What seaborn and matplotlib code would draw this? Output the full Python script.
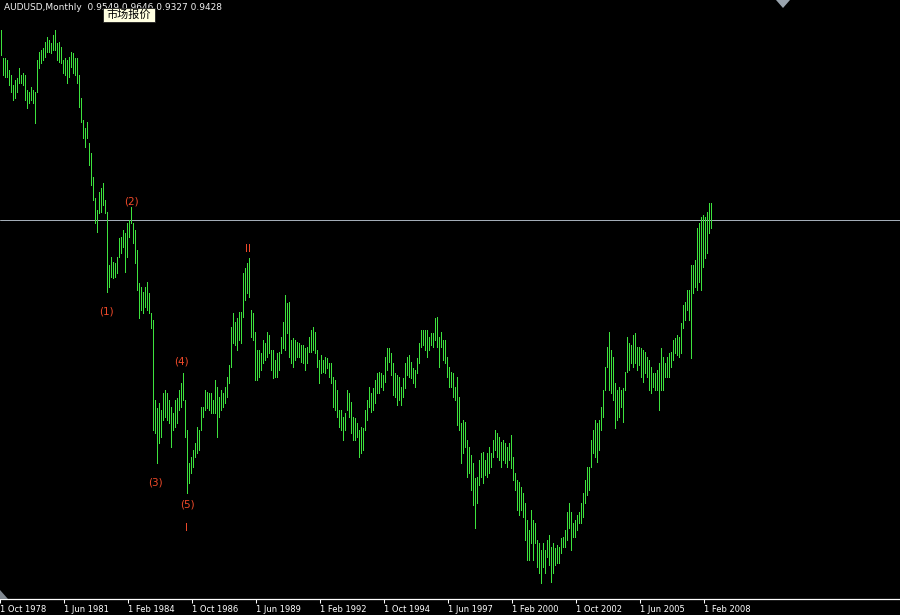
"""
AUDUSD monthly bar chart (MetaTrader style) with Elliott wave labels.
Writes out.png (900x615).
"""

import numpy as np
import pandas as pd
import matplotlib
matplotlib.use("Agg")
import matplotlib.pyplot as plt
import seaborn as sns
from matplotlib.patches import Polygon, Rectangle

# --------------------------------------------------------------------------- #
# Data
# --------------------------------------------------------------------------- #
SYMBOL = "AUDUSD,Monthly"
LAST_OHLC = ["0.9549", "0.9646", "0.9327", "0.9428"]
BID = 0.9428
START = "1978-10-01"
TICK_EVERY = 32

HIGH = [
    1.186, 1.151, 1.151, 1.148, 1.135, 1.129, 1.116, 1.122, 1.125, 1.138,
    1.129, 1.131, 1.129, 1.110, 1.107, 1.113, 1.110, 1.107, 1.148, 1.158,
    1.161, 1.163, 1.171, 1.177, 1.174, 1.170, 1.180, 1.186, 1.170, 1.171,
    1.165, 1.148, 1.151, 1.148, 1.152, 1.158, 1.157, 1.151, 1.151, 1.129,
    1.099, 1.071, 1.061, 1.069, 1.042, 1.029, 0.998, 0.971, 0.956, 0.979,
    0.984, 0.990, 0.969, 0.953, 0.885, 0.895, 0.889, 0.888, 0.895, 0.920,
    0.921, 0.930, 0.926, 0.939, 0.943, 0.960, 0.939, 0.930, 0.904, 0.862,
    0.857, 0.851, 0.857, 0.863, 0.849, 0.824, 0.815, 0.712, 0.702, 0.708,
    0.699, 0.721, 0.725, 0.721, 0.712, 0.703, 0.695, 0.712, 0.715, 0.725,
    0.734, 0.747, 0.712, 0.674, 0.631, 0.639, 0.648, 0.657, 0.677, 0.674,
    0.703, 0.703, 0.725, 0.722, 0.721, 0.721, 0.712, 0.738, 0.729, 0.716,
    0.725, 0.721, 0.729, 0.742, 0.757, 0.806, 0.824, 0.812, 0.817, 0.825,
    0.825, 0.875, 0.881, 0.888, 0.894, 0.828, 0.824, 0.799, 0.776, 0.776,
    0.772, 0.789, 0.785, 0.799, 0.795, 0.776, 0.776, 0.763, 0.772, 0.774,
    0.793, 0.812, 0.847, 0.837, 0.838, 0.789, 0.792, 0.789, 0.786, 0.785,
    0.783, 0.783, 0.779, 0.780, 0.793, 0.802, 0.806, 0.799, 0.776, 0.763,
    0.770, 0.763, 0.767, 0.766, 0.760, 0.760, 0.742, 0.738, 0.725, 0.699,
    0.699, 0.690, 0.695, 0.725, 0.721, 0.710, 0.690, 0.689, 0.683, 0.674,
    0.677, 0.676, 0.699, 0.712, 0.729, 0.721, 0.728, 0.738, 0.747, 0.748,
    0.747, 0.744, 0.767, 0.779, 0.779, 0.772, 0.760, 0.747, 0.744, 0.742,
    0.729, 0.740, 0.760, 0.767, 0.770, 0.761, 0.753, 0.751, 0.766, 0.785,
    0.802, 0.802, 0.802, 0.802, 0.793, 0.798, 0.798, 0.817, 0.819, 0.793,
    0.799, 0.789, 0.789, 0.767, 0.754, 0.748, 0.747, 0.729, 0.742, 0.716,
    0.683, 0.687, 0.684, 0.661, 0.652, 0.641, 0.631, 0.612, 0.613, 0.635,
    0.644, 0.645, 0.635, 0.644, 0.652, 0.644, 0.661, 0.674, 0.670, 0.665,
    0.658, 0.661, 0.657, 0.652, 0.657, 0.667, 0.639, 0.619, 0.610, 0.607,
    0.601, 0.593, 0.580, 0.558, 0.545, 0.571, 0.558, 0.554, 0.533, 0.529,
    0.520, 0.529, 0.520, 0.533, 0.539, 0.524, 0.529, 0.522, 0.526, 0.524,
    0.535, 0.537, 0.545, 0.569, 0.580, 0.569, 0.554, 0.558, 0.565, 0.569,
    0.580, 0.593, 0.610, 0.626, 0.626, 0.661, 0.674, 0.687, 0.683, 0.687,
    0.703, 0.725, 0.754, 0.780, 0.799, 0.776, 0.767, 0.734, 0.725, 0.729,
    0.725, 0.728, 0.748, 0.793, 0.785, 0.783, 0.795, 0.798, 0.780, 0.780,
    0.779, 0.776, 0.774, 0.767, 0.763, 0.754, 0.747, 0.747, 0.751, 0.760,
    0.779, 0.767, 0.760, 0.767, 0.772, 0.774, 0.789, 0.792, 0.795, 0.793,
    0.811, 0.834, 0.838, 0.853, 0.853, 0.885, 0.885, 0.892, 0.933, 0.939,
    0.947, 0.949, 0.947, 0.953, 0.965, 0.9646,
]

LOW = [
    1.154, 1.129, 1.126, 1.126, 1.116, 1.107, 1.097, 1.099, 1.107, 1.118,
    1.118, 1.116, 1.097, 1.086, 1.093, 1.097, 1.093, 1.067, 1.107, 1.138,
    1.144, 1.148, 1.152, 1.158, 1.158, 1.157, 1.161, 1.161, 1.148, 1.145,
    1.144, 1.131, 1.129, 1.118, 1.126, 1.139, 1.131, 1.129, 1.118, 1.088,
    1.069, 1.048, 1.036, 1.048, 1.013, 0.988, 0.969, 0.939, 0.928, 0.952,
    0.953, 0.962, 0.952, 0.851, 0.857, 0.870, 0.869, 0.870, 0.875, 0.895,
    0.901, 0.908, 0.876, 0.895, 0.921, 0.939, 0.913, 0.888, 0.853, 0.817,
    0.828, 0.824, 0.831, 0.828, 0.824, 0.804, 0.674, 0.670, 0.631, 0.657,
    0.665, 0.687, 0.690, 0.687, 0.683, 0.652, 0.674, 0.677, 0.683, 0.699,
    0.703, 0.712, 0.665, 0.593, 0.606, 0.619, 0.626, 0.639, 0.644, 0.648,
    0.674, 0.690, 0.699, 0.702, 0.699, 0.695, 0.695, 0.695, 0.665, 0.690,
    0.699, 0.703, 0.708, 0.716, 0.734, 0.754, 0.785, 0.783, 0.776, 0.789,
    0.785, 0.819, 0.840, 0.849, 0.844, 0.793, 0.789, 0.738, 0.738, 0.742,
    0.751, 0.760, 0.763, 0.767, 0.772, 0.751, 0.740, 0.742, 0.742, 0.751,
    0.772, 0.779, 0.776, 0.798, 0.767, 0.760, 0.754, 0.763, 0.767, 0.767,
    0.761, 0.760, 0.751, 0.760, 0.774, 0.774, 0.776, 0.772, 0.754, 0.734,
    0.747, 0.748, 0.747, 0.753, 0.742, 0.734, 0.703, 0.699, 0.690, 0.677,
    0.674, 0.661, 0.674, 0.699, 0.690, 0.670, 0.661, 0.661, 0.665, 0.639,
    0.644, 0.648, 0.674, 0.687, 0.703, 0.697, 0.699, 0.708, 0.721, 0.721,
    0.729, 0.725, 0.735, 0.751, 0.761, 0.744, 0.719, 0.716, 0.706, 0.712,
    0.706, 0.716, 0.728, 0.744, 0.742, 0.740, 0.734, 0.729, 0.747, 0.760,
    0.780, 0.783, 0.776, 0.767, 0.776, 0.783, 0.780, 0.789, 0.780, 0.754,
    0.780, 0.763, 0.760, 0.742, 0.729, 0.729, 0.716, 0.712, 0.680, 0.674,
    0.631, 0.644, 0.652, 0.613, 0.619, 0.597, 0.578, 0.548, 0.580, 0.603,
    0.613, 0.606, 0.616, 0.613, 0.619, 0.626, 0.639, 0.648, 0.639, 0.635,
    0.626, 0.635, 0.631, 0.626, 0.635, 0.625, 0.610, 0.597, 0.571, 0.565,
    0.571, 0.562, 0.533, 0.507, 0.507, 0.529, 0.507, 0.529, 0.498, 0.490,
    0.477, 0.498, 0.490, 0.511, 0.501, 0.479, 0.490, 0.501, 0.503, 0.503,
    0.516, 0.524, 0.524, 0.533, 0.548, 0.520, 0.537, 0.537, 0.545, 0.554,
    0.554, 0.562, 0.580, 0.590, 0.597, 0.626, 0.644, 0.639, 0.633, 0.648,
    0.674, 0.690, 0.725, 0.754, 0.725, 0.721, 0.712, 0.676, 0.687, 0.690,
    0.703, 0.684, 0.725, 0.748, 0.751, 0.760, 0.754, 0.760, 0.751, 0.757,
    0.742, 0.735, 0.747, 0.742, 0.725, 0.721, 0.729, 0.725, 0.725, 0.699,
    0.725, 0.725, 0.742, 0.742, 0.742, 0.754, 0.763, 0.772, 0.770, 0.767,
    0.772, 0.804, 0.815, 0.828, 0.815, 0.766, 0.849, 0.857, 0.853, 0.863,
    0.853, 0.883, 0.894, 0.901, 0.926, 0.9327,
]

# Elliott wave annotations: text, bar index, price level
WAVE_TEXT = ["(1)", "(2)", "(3)", "(4)", "(5)", "I", "II"]
WAVE_BAR = [52.5, 65, 77, 90, 93, 92.5, 123.5]
WAVE_PRICE = [0.825, 0.966, 0.606, 0.762, 0.578, 0.548, 0.906]

# --------------------------------------------------------------------------- #
# Style
# --------------------------------------------------------------------------- #
W, H, DPI = 900, 615, 100
BAR_GREEN = "#3de23d"
WAVE_RED = "#f04a2a"
BID_GREY = "#a9b3bd"
TEXT_WHITE = "#f0f0f0"

sns.set_theme(style="dark", rc={
    "figure.facecolor": "black",
    "axes.facecolor": "black",
    "axes.edgecolor": "white",
    "xtick.color": "white",
    "text.color": TEXT_WHITE,
})
plt.rcParams["font.family"] = ["DejaVu Sans", "Noto Sans CJK SC"]

n = len(HIGH)
dates = pd.date_range(START, periods=n, freq="MS")
bars = pd.DataFrame({
    "bar": np.concatenate([np.arange(n), np.arange(n)]),
    "price": np.concatenate([LOW, HIGH]),
})

fig = plt.figure(figsize=(W / DPI, H / DPI), dpi=DPI)
ax = fig.add_axes([0, 16 / H, 1, 599 / H])

# one vertical high-low stroke per month, 1 px wide
sns.lineplot(data=bars, x="bar", y="price", units="bar", estimator=None,
             color=BAR_GREEN, lw=0.68, antialiased=False, ax=ax, legend=False)

ax.axhline(BID, color=BID_GREY, lw=0.7, zorder=1)

for txt, b, p in zip(WAVE_TEXT, WAVE_BAR, WAVE_PRICE):
    ax.text(b, p, txt, color=WAVE_RED, fontsize=7.5, ha="center", va="center")

ax.set_xlim(-0.5, 449.5)
ax.set_ylim(0.4570, 1.2249)

ticks = np.arange(0, n, TICK_EVERY)
ax.set_xticks(ticks - 0.5)
ax.set_xticklabels([f"1 {dates[i]:%b %Y}" for i in ticks])
for lab in ax.get_xticklabels():
    lab.set_ha("left")
ax.tick_params(axis="x", length=3, width=0.75, pad=1, labelsize=6,
               colors="white", direction="out", bottom=True)
ax.set_yticks([])
ax.set_xlabel("")
ax.set_ylabel("")
ax.grid(False)
for side in ["top", "left", "right"]:
    ax.spines[side].set_visible(False)
ax.spines["bottom"].set_color("white")
ax.spines["bottom"].set_linewidth(0.9)

# header text, partly hidden under the "market watch" tooltip box
fig.text(4 / W, 1 - 8 / H, f"{SYMBOL}  " + " ".join(LAST_OHLC),
         fontsize=6.5, color=TEXT_WHITE, ha="left", va="center", zorder=2)
fig.patches.append(Rectangle((103 / W, 1 - 22 / H), 52 / W, 14 / H,
                             transform=fig.transFigure, fc="#ffffe1",
                             ec="#202020", lw=0.6, zorder=5))
fig.text(129 / W, 1 - 15 / H, "市场报价", fontsize=8, color="black",
         ha="center", va="center", zorder=6,
         family=["Noto Sans CJK SC", "DejaVu Sans"])

# small grey chart markers (shift marker at top, scale marker bottom-left)
fig.patches.append(Polygon([(776 / W, 1.0), (790 / W, 1.0), (783 / W, 1 - 8 / H)],
                           closed=True, transform=fig.transFigure,
                           fc="#9aa4ae", ec="none"))
fig.patches.append(Polygon([(0, 16 / H), (0, 25 / H), (8 / W, 16 / H)],
                           closed=True, transform=fig.transFigure,
                           fc="#808890", ec="none"))

fig.savefig("out.png", dpi=DPI, facecolor="black")
plt.close(fig)
